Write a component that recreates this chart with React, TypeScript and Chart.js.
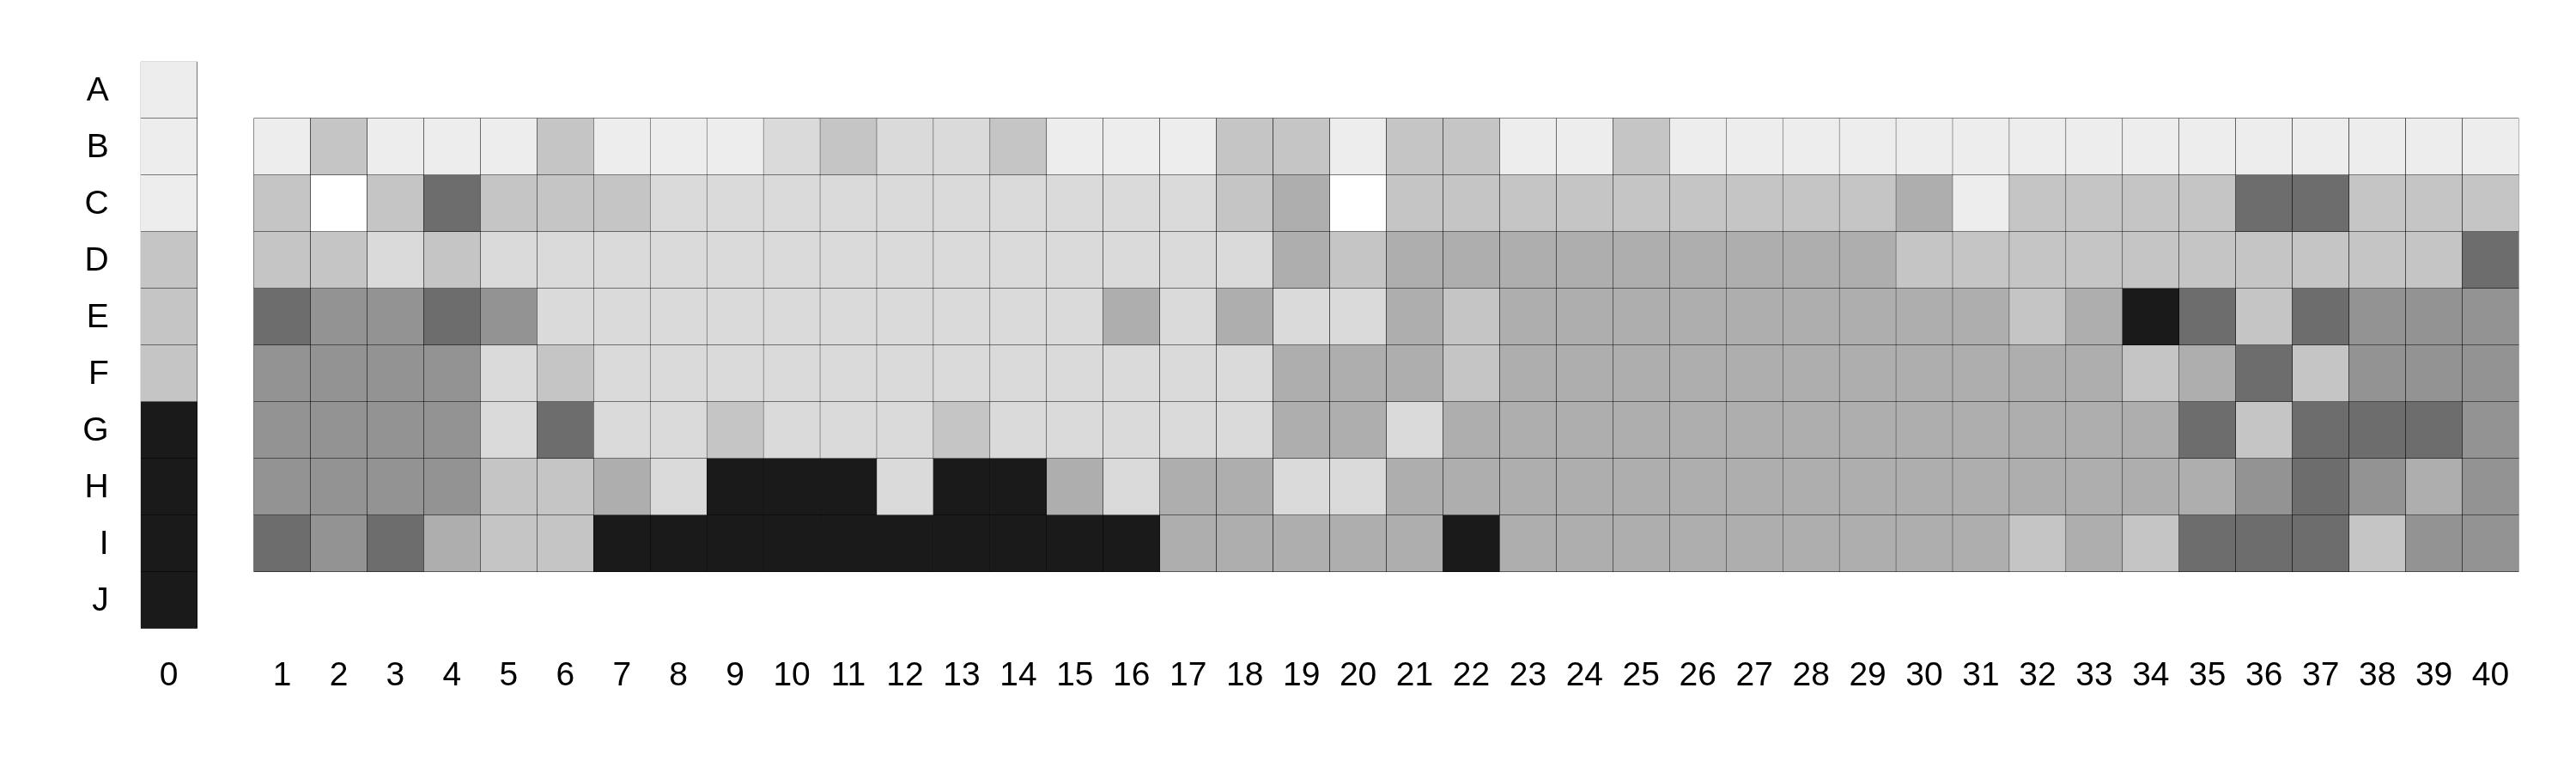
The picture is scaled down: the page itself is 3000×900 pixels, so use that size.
import React, { useEffect, useRef } from "react";
import { Chart, registerables } from "chart.js";

Chart.register(...registerables);

// Row labels (top to bottom)
const rowLabels = ["A", "B", "C", "D", "E", "F", "G", "H", "I", "J"];

// x categories: column 0, a blank gap, then columns 1..40
const colLabels = [
  "0", "",
  "1", "2", "3", "4", "5", "6", "7", "8", "9", "10",
  "11", "12", "13", "14", "15", "16", "17", "18", "19", "20",
  "21", "22", "23", "24", "25", "26", "27", "28", "29", "30",
  "31", "32", "33", "34", "35", "36", "37", "38", "39", "40",
];

// Grey levels (0 = white ... 7 = near black)
const palette = ["#FFFFFF", "#EDEDED", "#DADADA", "#C5C5C5", "#AEAEAE", "#939393", "#6D6D6D", "#1A1A1A"];

// Column 0, rows A..J
const col0 = [1, 1, 1, 3, 3, 3, 7, 7, 7, 7];

// Columns 1..40 for rows B..I
const rowB = [1, 3, 1, 1, 1, 3, 1, 1, 1, 2, 3, 2, 2, 3, 1, 1, 1, 3, 3, 1, 3, 3, 1, 1, 3, 1, 1, 1, 1, 1, 1, 1, 1, 1, 1, 1, 1, 1, 1, 1];
const rowC = [3, 0, 3, 6, 3, 3, 3, 2, 2, 2, 2, 2, 2, 2, 2, 2, 2, 3, 4, 0, 3, 3, 3, 3, 3, 3, 3, 3, 3, 4, 1, 3, 3, 3, 3, 6, 6, 3, 3, 3];
const rowD = [3, 3, 2, 3, 2, 2, 2, 2, 2, 2, 2, 2, 2, 2, 2, 2, 2, 2, 4, 3, 4, 4, 4, 4, 4, 4, 4, 4, 4, 3, 3, 3, 3, 3, 3, 3, 3, 3, 3, 6];
const rowE = [6, 5, 5, 6, 5, 2, 2, 2, 2, 2, 2, 2, 2, 2, 2, 4, 2, 4, 2, 2, 4, 3, 4, 4, 4, 4, 4, 4, 4, 4, 4, 3, 4, 7, 6, 3, 6, 5, 5, 5];
const rowF = [5, 5, 5, 5, 2, 3, 2, 2, 2, 2, 2, 2, 2, 2, 2, 2, 2, 2, 4, 4, 4, 3, 4, 4, 4, 4, 4, 4, 4, 4, 4, 4, 4, 3, 4, 6, 3, 5, 5, 5];
const rowG = [5, 5, 5, 5, 2, 6, 2, 2, 3, 2, 2, 2, 3, 2, 2, 2, 2, 2, 4, 4, 2, 4, 4, 4, 4, 4, 4, 4, 4, 4, 4, 4, 4, 4, 6, 3, 6, 6, 6, 5];
const rowH = [5, 5, 5, 5, 3, 3, 4, 2, 7, 7, 7, 2, 7, 7, 4, 2, 4, 4, 2, 2, 4, 4, 4, 4, 4, 4, 4, 4, 4, 4, 4, 4, 4, 4, 4, 5, 6, 5, 4, 5];
const rowI = [6, 5, 6, 4, 3, 3, 7, 7, 7, 7, 7, 7, 7, 7, 7, 7, 4, 4, 4, 4, 4, 7, 4, 4, 4, 4, 4, 4, 4, 4, 4, 3, 4, 3, 6, 6, 6, 3, 5, 5];

// rows B..I keyed by row index
const mainRows: { [k: number]: number[] } = { 1: rowB, 2: rowC, 3: rowD, 4: rowE, 5: rowF, 6: rowG, 7: rowH, 8: rowI };

export default function App() {
  const canvasRef = useRef<HTMLCanvasElement | null>(null);

  useEffect(() => {
    if (!canvasRef.current) return;

    const datasets = rowLabels.map((_, r) => {
      const data: any[] = [];
      const colors: string[] = [];
      colLabels.forEach((_, ci) => {
        let level: number | null = null;
        if (ci === 0) level = col0[r];
        else if (ci >= 2 && mainRows[r]) level = mainRows[r][ci - 2];
        if (level === null || level === undefined) {
          data.push(null);
          colors.push("rgba(0,0,0,0)");
        } else {
          data.push([r - 0.5, r + 0.5]);
          colors.push(palette[level]);
        }
      });
      return {
        label: rowLabels[r],
        data,
        backgroundColor: colors,
        borderColor: "#000000",
        borderWidth: 0.5,
        borderSkipped: false as any,
        grouped: false,
        categoryPercentage: 1,
        barPercentage: 1,
      };
    });

    const font = { family: "'Liberation Sans', Arial, sans-serif", size: 39 };

    const chart = new Chart(canvasRef.current, {
      type: "bar",
      data: { labels: colLabels, datasets: datasets as any },
      options: {
        animation: false,
        responsive: true,
        maintainAspectRatio: false,
        layout: { padding: { left: 0, top: 71.7, right: 66.5, bottom: 68.3 } },
        plugins: { legend: { display: false }, tooltip: { enabled: false } },
        scales: {
          x: {
            type: "category",
            offset: true,
            grid: { display: false, drawTicks: false },
            border: { display: false },
            ticks: { color: "#000", font, padding: 32, maxRotation: 0, autoSkip: false },
            afterFit: (scale: any) => { scale.height = 100; },
          },
          y: {
            type: "linear",
            reverse: true,
            min: -0.5,
            max: 9.5,
            grid: { display: false, drawTicks: false },
            border: { display: false },
            afterBuildTicks: (scale: any) => {
              scale.ticks = rowLabels.map((_, i) => ({ value: i }));
            },
            ticks: {
              color: "#000",
              font,
              padding: 37,
              labelOffset: 2,
              callback: (v: any) => rowLabels[Math.round(Number(v))] ?? "",
            },
            afterFit: (scale: any) => { scale.width = 163.7; },
          },
        },
      },
    });
    return () => chart.destroy();
  }, []);

  return (
    <div style={{ position: "absolute", left: 0, top: 0, width: 3000, height: 900, background: "#fff" }}>
      <canvas ref={canvasRef} />
    </div>
  );
}
